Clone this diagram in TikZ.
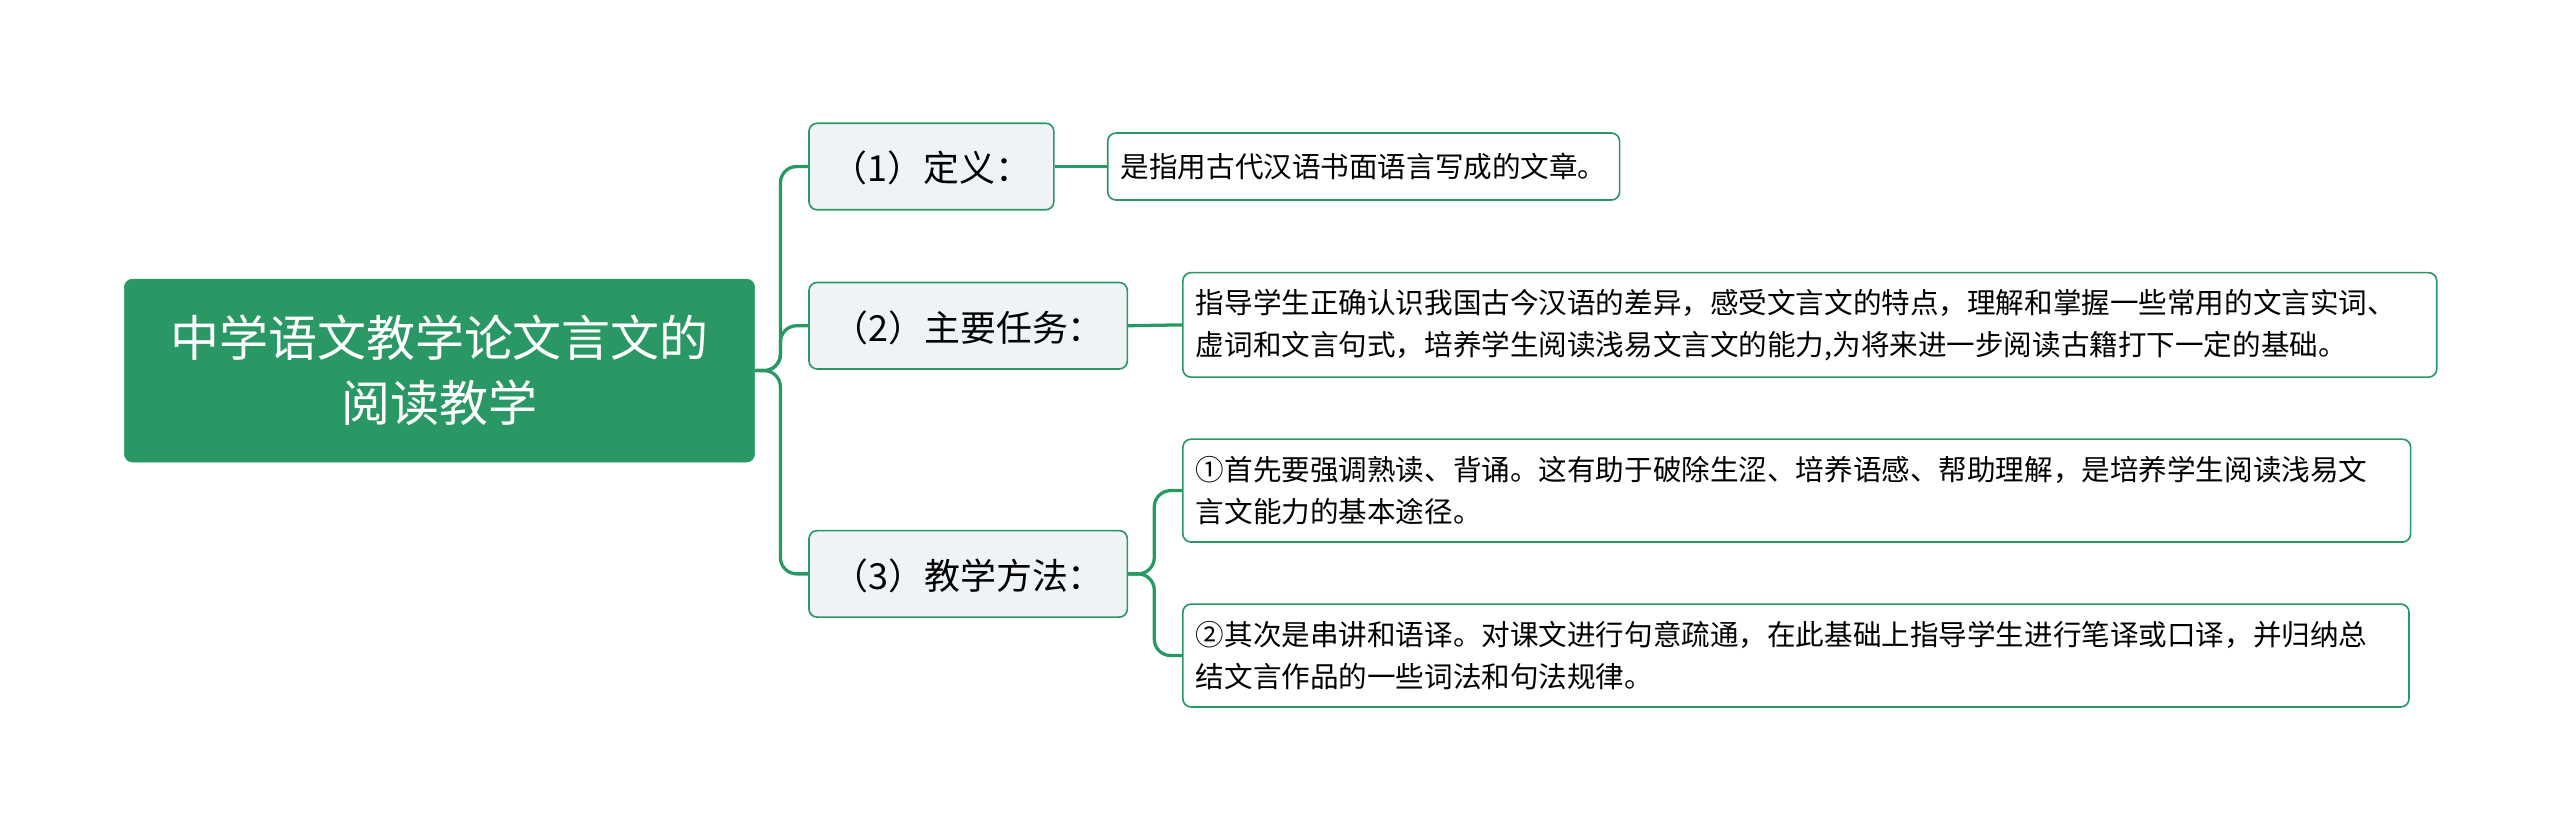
\documentclass[tikz,border=0pt]{standalone}
\usepackage{fontspec}
\setmainfont{Noto Sans CJK SC}
\usetikzlibrary{positioning}
\definecolor{mapgreen}{HTML}{2A9865}
\definecolor{branchfill}{HTML}{EFF3F6}
\begin{document}
\begin{tikzpicture}[x=1pt,y=-1pt,
    root/.style={fill=mapgreen, draw=mapgreen, rounded corners=5pt, text=white, font=\fontsize{30}{40}\selectfont, align=center, minimum width=386pt, minimum height=112pt, anchor=west, inner sep=0pt},
    branch/.style={fill=branchfill, draw=mapgreen, line width=1pt, rounded corners=5pt, font=\fontsize{22}{26}\selectfont, minimum height=53pt, anchor=west, inner sep=0pt, text depth=0pt},
    leaf/.style={fill=white, draw=mapgreen, line width=1pt, rounded corners=5pt, font=\fontsize{17.5}{26}\selectfont, align=left, anchor=west, inner xsep=8pt, inner ysep=6pt},
    link/.style={mapgreen, line width=2pt, rounded corners=10pt},
]
\useasboundingbox (0,0) rectangle (1568,510);

% Root
\node[root] (root) at (76,227) {中学语文教学论文言文的\\阅读教学};

% Branches
\node[branch, minimum width=150pt] (def) at (495,102) {（1）定义：\hspace{14pt}};
\node[branch, minimum width=195pt] (task) at (495,199.5) {（2）主要任务：\hspace{14pt}};
\node[branch, minimum width=195pt] (method) at (495,351.5) {（3）教学方法：\hspace{14pt}};

% Leaves
\node[leaf, minimum height=41pt] (defleaf) at (678,102) {是指用古代汉语书面语言写成的文章。};
\node[leaf, text width=752pt, minimum height=64pt] (taskleaf) at (724,199) {指导学生正确认识我国古今汉语的差异，感受文言文的特点，理解和掌握一些常用的文言实词、\\虚词和文言句式，培养学生阅读浅易文言文的能力,为将来进一步阅读古籍打下一定的基础。};
\node[leaf, text width=736pt, minimum height=63pt] (readleaf) at (724,300.5) {①首先要强调熟读、背诵。这有助于破除生涩、培养语感、帮助理解，是培养学生阅读浅易文\\言文能力的基本途径。};
\node[leaf, text width=735pt, minimum height=63pt] (explleaf) at (724,401.5) {②其次是串讲和语译。对课文进行句意疏通，在此基础上指导学生进行笔译或口译，并归纳总\\结文言作品的一些词法和句法规律。};

% Connectors
\coordinate (rootfork) at (478,227);
\coordinate (methodfork) at (707,351.5);
\draw[link] (root.east) -- (rootfork) |- (def.west);
\draw[link] (root.east) -- (rootfork) |- (task.west);
\draw[link] (root.east) -- (rootfork) |- (method.west);
\draw[link] (def.east) -- (defleaf.west);
\draw[link] (task.east) -- (taskleaf.west);
\draw[link] (method.east) -- (methodfork) |- (readleaf.west);
\draw[link] (method.east) -- (methodfork) |- (explleaf.west);
\end{tikzpicture}
\end{document}
